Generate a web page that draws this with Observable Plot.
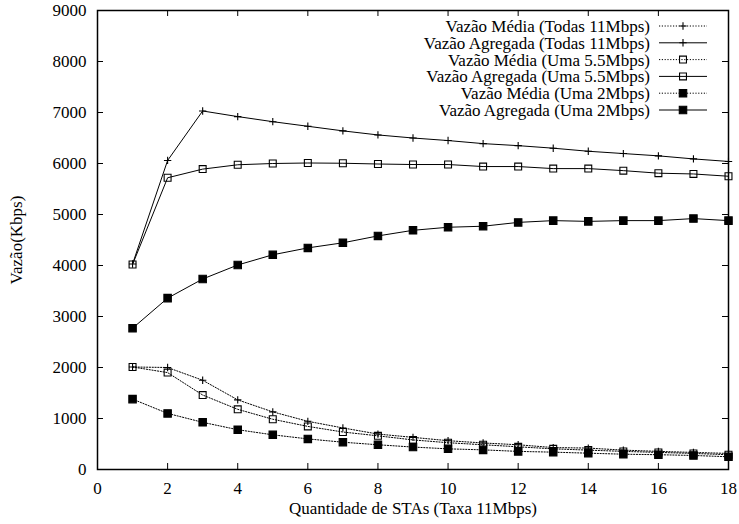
<!DOCTYPE html>
<html>
<head>
<meta charset="utf-8">
<script src="https://cdn.jsdelivr.net/npm/d3@7"></script>
<script src="https://cdn.jsdelivr.net/npm/@observablehq/plot@0.6"></script>
<style>
  html, body { margin: 0; padding: 0; background: #fff; }
  #chart svg { display: block; }
  #chart svg, #chart svg text { font-family: "Liberation Serif", "Times New Roman", serif !important; }
</style>
</head>
<body>
<div id="chart"></div>
<script>
// ---- data ----
const stas = [1, 2, 3, 4, 5, 6, 7, 8, 9, 10, 11, 12, 13, 14, 15, 16, 17, 18];
const xTicks = [0, 2, 4, 6, 8, 10, 12, 14, 16, 18];
const yTicks = [0, 1000, 2000, 3000, 4000, 5000, 6000, 7000, 8000, 9000];

const mediaTodas11 = [2010, 2000, 1750, 1365, 1130, 945, 815, 695, 630, 565, 520, 485, 430, 420, 380, 355, 335, 315];
const agregTodas11 = [4030, 6060, 7030, 6920, 6820, 6730, 6640, 6560, 6500, 6450, 6390, 6350, 6300, 6240, 6195, 6150, 6090, 6040];
const mediaUma55 = [2010, 1900, 1460, 1180, 985, 845, 735, 660, 580, 525, 485, 445, 405, 380, 355, 335, 315, 290];
const agregUma55 = [4020, 5720, 5890, 5975, 6000, 6010, 6005, 5990, 5980, 5980, 5940, 5940, 5900, 5900, 5860, 5810, 5795, 5750];
const mediaUma2 = [1380, 1100, 925, 780, 680, 600, 535, 485, 440, 405, 385, 355, 340, 320, 300, 290, 275, 250];
const agregUma2 = [2770, 3360, 3735, 4010, 4210, 4345, 4445, 4580, 4690, 4750, 4770, 4845, 4880, 4865, 4880, 4880, 4920, 4880];

const seriesLabels = [
  "Vazão Média (Todas 11Mbps)",
  "Vazão Agregada (Todas 11Mbps)",
  "Vazão Média (Uma 5.5Mbps)",
  "Vazão Agregada (Uma 5.5Mbps)",
  "Vazão Média (Uma 2Mbps)",
  "Vazão Agregada (Uma 2Mbps)"
];
const seriesValues = [mediaTodas11, agregTodas11, mediaUma55, agregUma55, mediaUma2, agregUma2];
const xLabel = "Quantidade de STAs (Taxa 11Mbps)";
const yLabel = "Vazão(Kbps)";

// ---- styles ----
const W = 739, H = 524, mL = 97, mR = 11, mT = 10, mB = 55;
const pw = W - mL - mR, ph = H - mT - mB;
const FONT = "Liberation Serif, Times New Roman, serif";
const dotted = "1.2,1.6";
const styles = [
  {dash: dotted, symbol: "plus", r: 2.5, fill: "none"},
  {dash: null, symbol: "plus", r: 2.5, fill: "none"},
  {dash: dotted, symbol: "square2", r: 4.4, fill: "none"},
  {dash: null, symbol: "square2", r: 4.4, fill: "none"},
  {dash: dotted, symbol: "square", r: 4.2, fill: "black"},
  {dash: null, symbol: "square", r: 4.2, fill: "black"}
];

const rows = (vals) => stas.map((x, i) => ({x, y: vals[i]}));

const marks = [
  Plot.axisX(xTicks, {tickSize: 0, tickPadding: 12, tickFormat: d => String(d),
    label: xLabel, labelAnchor: "center", labelOffset: 44, labelArrow: "none"}),
  Plot.axisY(yTicks, {tickSize: 0, tickPadding: 11, tickFormat: d => String(d),
    label: yLabel, labelAnchor: "center", labelOffset: 88, labelArrow: "none"}),
  Plot.tickX(xTicks.slice(1, -1), {x: d => d, insetTop: ph - 6, stroke: "black"}),
  Plot.tickX(xTicks.slice(1, -1), {x: d => d, insetBottom: ph - 6, stroke: "black"}),
  Plot.tickY(yTicks.slice(1, -1), {y: d => d, insetRight: pw - 6, stroke: "black"}),
  Plot.tickY(yTicks.slice(1, -1), {y: d => d, insetLeft: pw - 6, stroke: "black"})
];
seriesValues.forEach((vals, i) => {
  const s = styles[i];
  marks.push(Plot.line(rows(vals), {x: "x", y: "y", stroke: "black", strokeWidth: 1,
    strokeDasharray: s.dash || undefined}));
});
seriesValues.forEach((vals, i) => {
  const s = styles[i];
  marks.push(Plot.dot(rows(vals), {x: "x", y: "y", symbol: s.symbol, r: s.r,
    fill: s.fill, stroke: "black", strokeWidth: 1.1}));
});
marks.push(Plot.frame({stroke: "black", strokeWidth: 1.5}));

const chart = Plot.plot({
  width: W, height: H,
  marginLeft: mL, marginRight: mR, marginTop: mT, marginBottom: mB,
  style: {fontFamily: FONT, fontSize: "17px", color: "black", background: "white", overflow: "visible"},
  x: {domain: [0, 18], label: null},
  y: {domain: [0, 9000], label: null},
  marks
});
document.getElementById("chart").appendChild(chart);

// ---- legend (top right, inside the frame, gnuplot style) ----
const svg = d3.select(chart);
const lg = svg.append("g").attr("font-family", FONT).attr("font-size", 17);
const symbolMap = {plus: d3.symbolPlus, square2: d3.symbolSquare2, square: d3.symbolSquare};
seriesLabels.forEach((lab, i) => {
  const s = styles[i];
  const yy = 26 + i * 16.8;
  lg.append("text").attr("x", 650).attr("y", yy).attr("dy", "0.35em")
    .attr("text-anchor", "end").attr("fill", "black").text(lab);
  lg.append("line").attr("x1", 659).attr("x2", 707).attr("y1", yy).attr("y2", yy)
    .attr("stroke", "black").attr("stroke-width", 1)
    .attr("stroke-dasharray", s.dash || null);
  lg.append("path")
    .attr("transform", `translate(683,${yy})`)
    .attr("d", d3.symbol(symbolMap[s.symbol], Math.PI * s.r * s.r)())
    .attr("fill", s.fill).attr("stroke", "black").attr("stroke-width", 1.1);
});
</script>
</body>
</html>
